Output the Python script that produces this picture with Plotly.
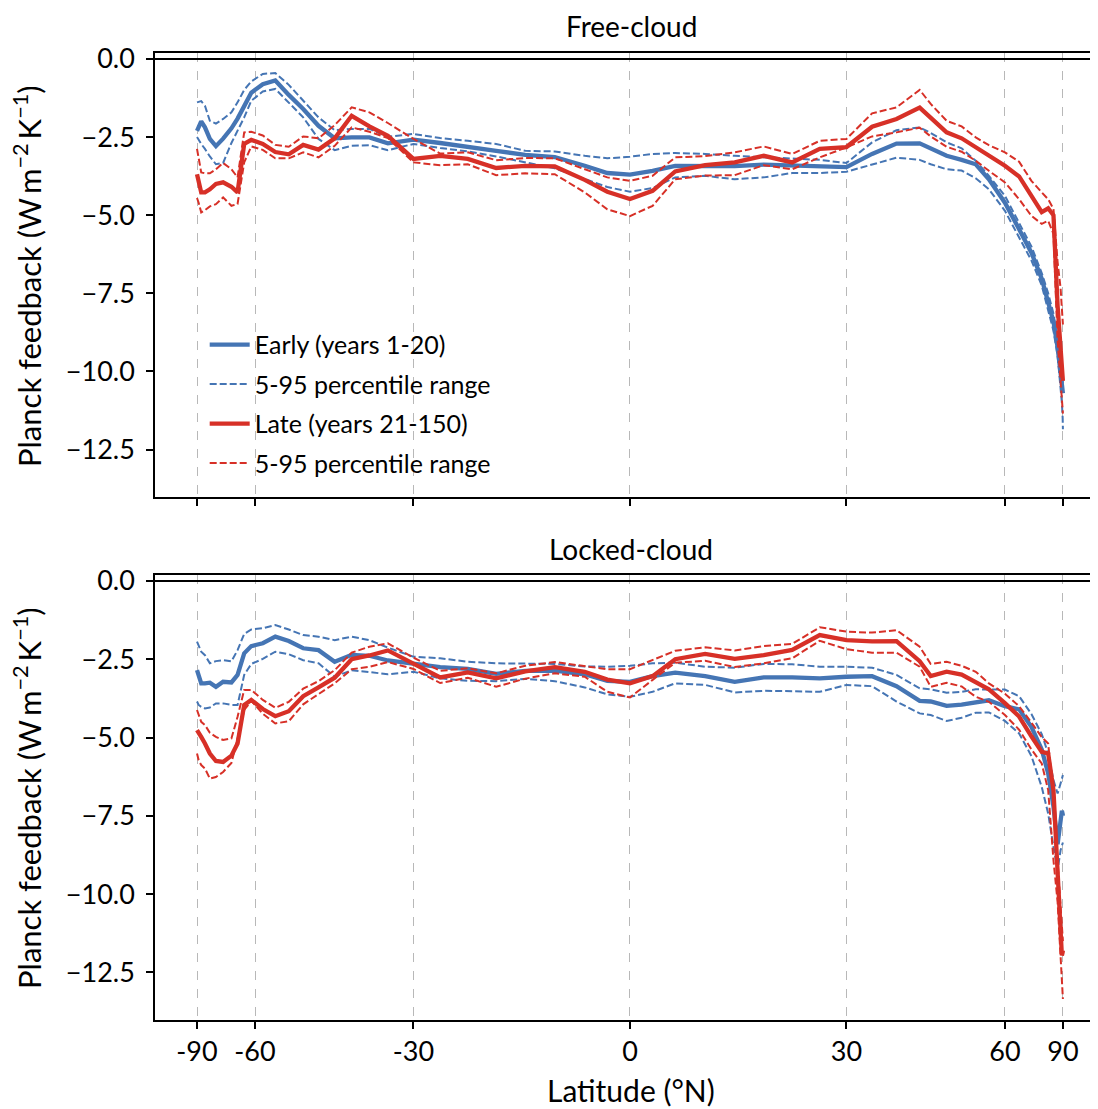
import numpy as np
import plotly.graph_objects as go

# ---------------- data ----------------
LAT = [-89.5, -85, -82, -79, -76, -73, -70, -67, -65, -63, -61, -58, -55, -52, -49, -46,
       -43, -40, -37, -34, -30, -26, -22, -18, -14, -10, -6, -3, 0, 3, 6, 10, 14, 18, 22,
       26, 30, 34, 38, 42, 44, 47, 50, 53, 56, 60, 64, 68, 72, 75, 78, 81, 84, 86, 88, 89.5]

# Free-cloud panel
FREE_EARLY_MEAN = [-2.30, -2.14, -2.00, -2.19, -2.56, -2.79, -2.55, -2.22, -1.91, -1.51, -1.08, -0.81,
                   -0.69, -1.15, -1.60, -2.14, -2.54, -2.51, -2.51, -2.70, -2.58, -2.69, -2.83, -2.94,
                   -3.07, -3.14, -3.42, -3.65, -3.70, -3.58, -3.42, -3.42, -3.43, -3.38, -3.40, -3.44,
                   -3.46, -3.04, -2.71, -2.70, -2.88, -3.10, -3.23, -3.37, -3.85, -4.60, -5.45, -6.20,
                   -7.03, -7.74, -8.41, -9.23, -10.00, -10.34, -10.58, -10.70]
FREE_EARLY_P95 = [-1.39, -1.38, -1.35, -1.50, -1.98, -2.07, -1.92, -1.71, -1.39, -0.99, -0.72, -0.48,
                  -0.45, -0.83, -1.34, -1.87, -2.28, -2.24, -2.24, -2.49, -2.40, -2.53, -2.62, -2.72,
                  -2.94, -2.96, -3.10, -3.18, -3.13, -3.04, -3.01, -3.04, -3.10, -3.14, -3.18, -3.23,
                  -3.33, -2.67, -2.28, -2.19, -2.37, -2.67, -2.86, -3.26, -3.74, -4.38, -5.25, -6.00,
                  -6.85, -7.50, -8.15, -8.95, -9.70, -10.00, -10.30, -10.45]
FREE_EARLY_P05 = [-2.50, -2.60, -2.72, -2.88, -3.12, -3.37, -3.33, -2.69, -2.30, -1.87, -1.34, -1.04,
                  -0.96, -1.39, -1.87, -2.56, -2.92, -2.78, -2.76, -2.92, -2.72, -2.85, -2.96, -3.12,
                  -3.31, -3.50, -3.84, -4.10, -4.25, -4.13, -3.79, -3.74, -3.85, -3.79, -3.65, -3.65,
                  -3.61, -3.37, -3.16, -3.23, -3.37, -3.53, -3.57, -3.82, -4.17, -4.86, -5.70, -6.45,
                  -7.25, -8.00, -8.70, -9.50, -10.50, -11.00, -11.50, -11.85]
FREE_LATE_MEAN = [-3.69, -3.95, -4.27, -4.27, -4.17, -4.00, -3.95, -4.09, -4.27, -2.72, -2.59, -2.72,
                  -2.98, -3.05, -2.75, -2.90, -2.54, -1.82, -2.16, -2.46, -3.20, -3.10, -3.20, -3.49,
                  -3.42, -3.44, -3.87, -4.25, -4.48, -4.22, -3.60, -3.40, -3.31, -3.10, -3.31, -2.88,
                  -2.82, -2.17, -1.92, -1.56, -1.87, -2.35, -2.54, -2.83, -3.10, -3.42, -3.76, -4.35,
                  -4.90, -4.78, -5.00, -7.90, -9.44, -10.10, -10.20, -10.30]
FREE_LATE_P95 = [-2.88, -3.18, -3.63, -3.66, -3.66, -3.53, -3.33, -3.53, -3.79, -2.35, -2.33, -2.45,
                 -2.75, -2.81, -2.48, -2.54, -2.12, -1.55, -1.71, -2.05, -2.56, -3.03, -2.99, -3.24,
                 -3.17, -3.18, -3.53, -3.79, -3.90, -3.74, -3.15, -3.11, -2.99, -2.80, -3.04, -2.62,
                 -2.56, -1.74, -1.55, -0.99, -1.44, -1.98, -2.16, -2.51, -2.76, -2.99, -3.29, -3.90,
                 -4.27, -4.49, -4.80, -6.50, -7.33, -7.90, -8.30, -8.50]
FREE_LATE_P05 = [-4.45, -4.60, -4.91, -4.84, -4.72, -4.65, -4.43, -4.70, -4.64, -3.31, -2.80, -2.91,
                 -3.18, -3.18, -2.99, -3.15, -2.78, -2.19, -2.33, -2.53, -3.31, -3.40, -3.37, -3.72,
                 -3.66, -3.69, -4.27, -4.81, -5.03, -4.70, -3.85, -3.73, -3.72, -3.40, -3.53, -3.15,
                 -2.83, -2.48, -2.35, -2.20, -2.48, -2.81, -2.97, -3.26, -3.58, -3.95, -4.49, -5.02,
                 -5.28, -5.18, -5.60, -9.00, -10.30, -10.80, -11.20, -11.35]

# Locked-cloud panel
LOCK_EARLY_MEAN = [-2.85, -3.00, -3.27, -3.27, -3.25, -3.38, -3.22, -3.24, -3.00, -2.31, -2.08, -1.99,
                   -1.78, -1.92, -2.15, -2.21, -2.58, -2.36, -2.39, -2.54, -2.66, -2.75, -2.81, -2.97,
                   -2.87, -2.86, -2.98, -3.19, -3.22, -3.04, -2.93, -3.04, -3.22, -3.08, -3.08, -3.11,
                   -3.06, -3.04, -3.36, -3.83, -3.85, -3.99, -3.95, -3.86, -3.81, -4.00, -4.10, -4.66,
                   -5.38, -6.15, -7.21, -8.41, -7.69, -7.34, -7.45, -7.50]
LOCK_EARLY_P95 = [-1.94, -2.05, -2.26, -2.37, -2.63, -2.56, -2.53, -2.57, -2.21, -1.69, -1.55, -1.51,
                  -1.41, -1.55, -1.73, -1.78, -1.89, -1.78, -1.89, -2.13, -2.42, -2.47, -2.58, -2.63,
                  -2.64, -2.65, -2.73, -2.74, -2.71, -2.63, -2.61, -2.74, -2.77, -2.65, -2.66, -2.74,
                  -2.74, -2.77, -3.00, -3.43, -3.46, -3.57, -3.54, -3.46, -3.47, -3.47, -3.68, -4.25,
                  -4.89, -5.51, -6.36, -6.79, -6.47, -6.29, -6.25, -6.20]
LOCK_EARLY_P05 = [-3.85, -3.96, -4.02, -4.07, -4.04, -3.91, -3.91, -3.96, -3.96, -3.00, -2.65, -2.49,
                  -2.26, -2.34, -2.53, -2.63, -3.06, -2.85, -2.91, -2.98, -2.90, -3.11, -3.19, -3.20,
                  -3.13, -3.20, -3.40, -3.62, -3.70, -3.54, -3.27, -3.32, -3.56, -3.51, -3.52, -3.54,
                  -3.32, -3.36, -3.85, -4.23, -4.28, -4.47, -4.37, -4.21, -4.20, -4.47, -4.87, -5.59,
                  -6.58, -7.43, -8.49, -9.24, -8.60, -8.44, -8.40, -8.35]
LOCK_LATE_MEAN = [-4.76, -4.87, -4.98, -5.19, -5.51, -5.75, -5.78, -5.58, -5.19, -3.96, -3.80, -4.09,
                  -4.32, -4.16, -3.68, -3.40, -3.09, -2.50, -2.38, -2.22, -2.63, -3.08, -2.92, -3.11,
                  -2.89, -2.75, -2.90, -3.15, -3.27, -3.04, -2.50, -2.33, -2.49, -2.37, -2.20, -1.73,
                  -1.89, -1.93, -1.92, -2.56, -3.04, -2.90, -2.99, -3.22, -3.46, -3.90, -4.33, -4.96,
                  -5.46, -5.51, -6.68, -9.29, -10.99, -11.96, -11.85, -11.80]
LOCK_LATE_P95 = [-4.12, -4.28, -4.50, -4.60, -4.85, -4.98, -5.08, -5.03, -4.34, -3.48, -3.48, -3.80,
                 -4.05, -3.86, -3.44, -3.20, -2.85, -2.29, -2.10, -1.99, -2.45, -2.87, -2.79, -2.95,
                 -2.71, -2.59, -2.72, -2.82, -2.82, -2.53, -2.23, -2.12, -2.22, -2.08, -2.01, -1.48,
                 -1.62, -1.65, -1.57, -2.10, -2.65, -2.58, -2.71, -2.90, -3.27, -3.60, -4.00, -4.52,
                 -4.99, -5.19, -6.84, -8.97, -10.50, -11.00, -11.30, -11.50]
LOCK_LATE_P05 = [-5.51, -5.72, -5.88, -5.99, -6.31, -6.26, -6.10, -5.81, -5.03, -4.12, -3.83, -4.24,
                 -4.55, -4.48, -3.94, -3.61, -3.27, -2.82, -2.74, -2.59, -2.81, -3.26, -3.09, -3.38,
                 -3.12, -2.95, -3.06, -3.54, -3.72, -3.16, -2.61, -2.55, -2.75, -2.63, -2.47, -1.91,
                 -2.18, -2.29, -2.29, -2.74, -3.38, -3.25, -3.37, -3.70, -3.86, -4.28, -4.75, -5.38,
                 -5.83, -6.68, -8.92, -10.25, -12.00, -13.00, -13.30, -13.35]

XTICK_LAT = [-90, -60, -30, 0, 30, 60, 90]
XTICK_TEXT = ["-90", "-60", "-30", "0", "30", "60", "90"]
YTICK_VALS = [0.0, -2.5, -5.0, -7.5, -10.0, -12.5]
YTICK_TEXT = ["0.0", "\u22122.5", "\u22125.0", "\u22127.5", "\u221210.0", "\u221212.5"]

# ---------------- styling ----------------
BLUE = "#4575b4"
RED = "#d73027"
FONT = "Lato"
xs = np.sin(np.deg2rad(LAT))
xtick_pos = np.sin(np.deg2rad(XTICK_LAT))

fig = go.Figure()


def add_panel(xa, ya, e_mean, e_lo, e_hi, l_mean, l_lo, l_hi, legend):
    spec = [
        (e_mean, BLUE, 4.3, "solid", "Early (years 1-20)", legend),
        (e_lo, BLUE, 2, "7px,3px", "5-95 percentile range", legend),
        (e_hi, BLUE, 2, "7px,3px", "5-95 percentile range", False),
        (l_mean, RED, 4.3, "solid", "Late (years 21-150)", legend),
        (l_lo, RED, 2, "7px,3px", "5-95 percentile range", legend),
        (l_hi, RED, 2, "7px,3px", "5-95 percentile range", False),
    ]
    for i, (vals, col, w, dash, name, show) in enumerate(spec):
        fig.add_trace(go.Scatter(
            x=xs, y=vals, mode="lines", name=name, showlegend=show,
            legendgroup="g%d" % i,
            line=dict(color=col, width=w, dash=dash),
            xaxis=xa, yaxis=ya, hoverinfo="skip"))


add_panel("x", "y", FREE_EARLY_MEAN, FREE_EARLY_P05, FREE_EARLY_P95,
          FREE_LATE_MEAN, FREE_LATE_P05, FREE_LATE_P95, True)
add_panel("x2", "y2", LOCK_EARLY_MEAN, LOCK_EARLY_P05, LOCK_EARLY_P95,
          LOCK_LATE_MEAN, LOCK_LATE_P05, LOCK_LATE_P95, False)

XR = [-1.097, 1.081]
YR = [-14.02, 0.19]

xcommon = dict(range=XR, tickvals=xtick_pos, ticktext=XTICK_TEXT, ticks="outside",
               ticklen=7, tickwidth=1.5, tickcolor="black", showline=True, mirror=True,
               linecolor="black", linewidth=1.5, showgrid=True, gridcolor="#b8b8b8",
               griddash="dash", gridwidth=1, zeroline=False,
               tickfont=dict(family=FONT, size=27, color="black"))
ycommon = dict(range=YR, tickvals=YTICK_VALS, ticktext=YTICK_TEXT, ticks="outside",
               ticklen=7, tickwidth=1.5, tickcolor="black", showline=True, mirror=False,
               linecolor="black", linewidth=1.5, showgrid=False, zeroline=True,
               zerolinecolor="black", zerolinewidth=2.2, ticklabelstandoff=6,
               tickfont=dict(family=FONT, size=27, color="black"))

# The page body adds an 8 px offset, so the figure is 8 px smaller than the window.
fig.update_layout(
    width=1090, height=1101,
    margin=dict(l=147, r=0, t=45, b=89),
    plot_bgcolor="white", paper_bgcolor="white",
    font=dict(family=FONT, color="black"),
    xaxis=dict(domain=[0, 1], anchor="y", showticklabels=False, **xcommon),
    yaxis=dict(domain=[0.5408, 1], anchor="x", **ycommon),
    xaxis2=dict(domain=[0, 1], anchor="y2", showticklabels=True, **xcommon),
    yaxis2=dict(domain=[0, 0.4602], anchor="x2", **ycommon),
    showlegend=True,
    legend=dict(x=0.0527, y=0.722, xanchor="left", yanchor="top",
                bgcolor="rgba(0,0,0,0)", borderwidth=0,
                font=dict(family=FONT, size=25, color="black"),
                tracegroupgap=4, itemwidth=40),
)

ylab = "Planck feedback (W\u2009m<sup>\u22122</sup>\u2009K<sup>\u22121</sup>)"
annots = [
    dict(text="Free-cloud", x=0.5048, y=1.0279, xref="paper", yref="paper",
         showarrow=False, font=dict(size=28, family=FONT), xanchor="center", yanchor="middle"),
    dict(text="Locked-cloud", x=0.5048, y=0.4871, xref="paper", yref="paper",
         showarrow=False, font=dict(size=28, family=FONT), xanchor="center", yanchor="middle"),
    dict(text=ylab, x=-0.1347, y=0.7694, xref="paper", yref="paper", textangle=-90,
         showarrow=False, font=dict(size=31, family=FONT), xanchor="center", yanchor="middle"),
    dict(text=ylab, x=-0.1347, y=0.2296, xref="paper", yref="paper", textangle=-90,
         showarrow=False, font=dict(size=31, family=FONT), xanchor="center", yanchor="middle"),
    dict(text="Latitude (\u00b0N)", x=0.5048, y=-0.0724, xref="paper", yref="paper",
         showarrow=False, font=dict(size=30, family=FONT), xanchor="center", yanchor="middle"),
]
fig.update_layout(annotations=annots)

fig.write_html("out.html")
